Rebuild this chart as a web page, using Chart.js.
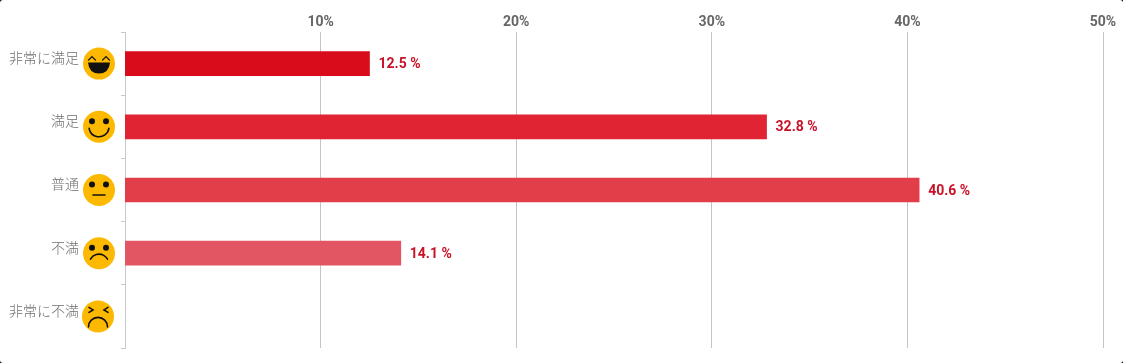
<!DOCTYPE html>
<html><head><meta charset="utf-8">
<style>html,body{margin:0;padding:0;background:#000;overflow:hidden}#w{position:relative;width:1123px;height:363px;border-radius:3px;overflow:hidden;background:#fff}canvas{display:block}</style>
<script src="https://cdn.jsdelivr.net/npm/chart.js@4/dist/chart.umd.min.js"></script>
</head><body><div id="w"><canvas id="c" width="1123" height="363"></canvas></div>
<script>
const categories = ["非常に満足","満足","普通","不満","非常に不満"];
const values = [12.5,32.8,40.6,14.1,null];
const barColors = ["#d90c1c","#e02434","#e23e4a","#e25663","#e8808a"];
const faces = ["laugh","smile","neutral","sad","angry"];
const xTicks = [10,20,30,40,50];

function drawFace(ctx,kind,x,y){
  ctx.save();
  ctx.translate(x,y);
  ctx.fillStyle="#fdb900";
  ctx.beginPath();ctx.arc(0,0,16,0,Math.PI*2);ctx.fill();
  ctx.strokeStyle="#111";ctx.fillStyle="#111";ctx.lineWidth=1.6;ctx.lineCap="round";
  const eyes=()=>{[-7,7].forEach(d=>{ctx.beginPath();ctx.arc(d,-5.5,3,0,Math.PI*2);ctx.fill();});};
  if(kind==="laugh"){
    ctx.lineWidth=1.3;
    [-7,7].forEach(d=>{ctx.beginPath();ctx.moveTo(d-3.5,-3.5);ctx.lineTo(d,-7);ctx.lineTo(d+3.5,-3.5);ctx.stroke();});
    ctx.beginPath();ctx.moveTo(-11,-1);ctx.lineTo(11,-1);ctx.quadraticCurveTo(10,10,0,10);ctx.quadraticCurveTo(-10,10,-11,-1);ctx.fill();
  }else if(kind==="smile"){
    eyes();
    ctx.beginPath();ctx.arc(0,0,10,0.05*Math.PI,0.95*Math.PI);ctx.stroke();
  }else if(kind==="neutral"){
    eyes();
    ctx.beginPath();ctx.moveTo(-6,5);ctx.lineTo(6,5);ctx.stroke();
  }else if(kind==="sad"){
    eyes();
    ctx.beginPath();ctx.arc(0,10.7,9.7,1.16*Math.PI,1.84*Math.PI);ctx.stroke();
  }else{
    ctx.beginPath();ctx.moveTo(-9,-9);ctx.lineTo(-5,-6.5);ctx.lineTo(-9,-4);ctx.stroke();
    ctx.beginPath();ctx.moveTo(10,-9);ctx.lineTo(6,-6.5);ctx.lineTo(10,-4);ctx.stroke();
    ctx.beginPath();ctx.arc(0,10.5,9.5,Math.PI,2*Math.PI);ctx.stroke();
  }
  ctx.restore();
}

const decorations = {
  id:"decorations",
  afterDatasetsDraw(chart){
    const {ctx,scales:{x,y}}=chart;
    categories.forEach((c,i)=>{
      drawFace(ctx,faces[i],i===4?98:99,y.getPixelForValue(i));
      if(values[i]==null) return;
      ctx.save();
      ctx.font='bold 14px Roboto';
      ctx.fillStyle="#c91228";
      ctx.textAlign="left";ctx.textBaseline="middle";
      ctx.fillText(values[i].toFixed(1)+" %",x.getPixelForValue(values[i])+9,y.getPixelForValue(i)+1);
      ctx.restore();
    });
  }
};

new Chart(document.getElementById("c"),{
  type:"bar",
  data:{labels:categories,datasets:[{data:values,backgroundColor:barColors,barThickness:24,borderWidth:0}]},
  plugins:[decorations],
  options:{
    indexAxis:"y",responsive:false,animation:false,
    layout:{padding:{left:0,right:20,top:0,bottom:15}},
    plugins:{legend:{display:false},tooltip:{enabled:false}},
    scales:{
      x:{position:"top",min:0,max:50,
        afterFit(s){s.height=32;s.paddingLeft=0;s.paddingRight=0;},
        afterBuildTicks(s){s.ticks=xTicks.map(v=>({value:v}));},
        border:{display:false},
        grid:{color:"#c4c4c4",lineWidth:1,drawTicks:false},
        ticks:{padding:1,maxRotation:0,color:"#666",font:{family:"Roboto",size:14,weight:"bold"},callback:v=>v+"%"}
      },
      y:{position:"left",
        afterFit(s){s.width=125;s.paddingTop=0;s.paddingBottom=0;},
        border:{color:"#c4cad0",width:1},
        grid:{offset:true,drawOnChartArea:false,drawTicks:true,tickLength:4,color:"#c4cad0"},
        ticks:{padding:42,labelOffset:-6,color:"#6e6e6e",font:{family:"'Noto Sans CJK JP'",size:14,weight:"300"}}
      }
    }
  }
});
</script></body></html>
